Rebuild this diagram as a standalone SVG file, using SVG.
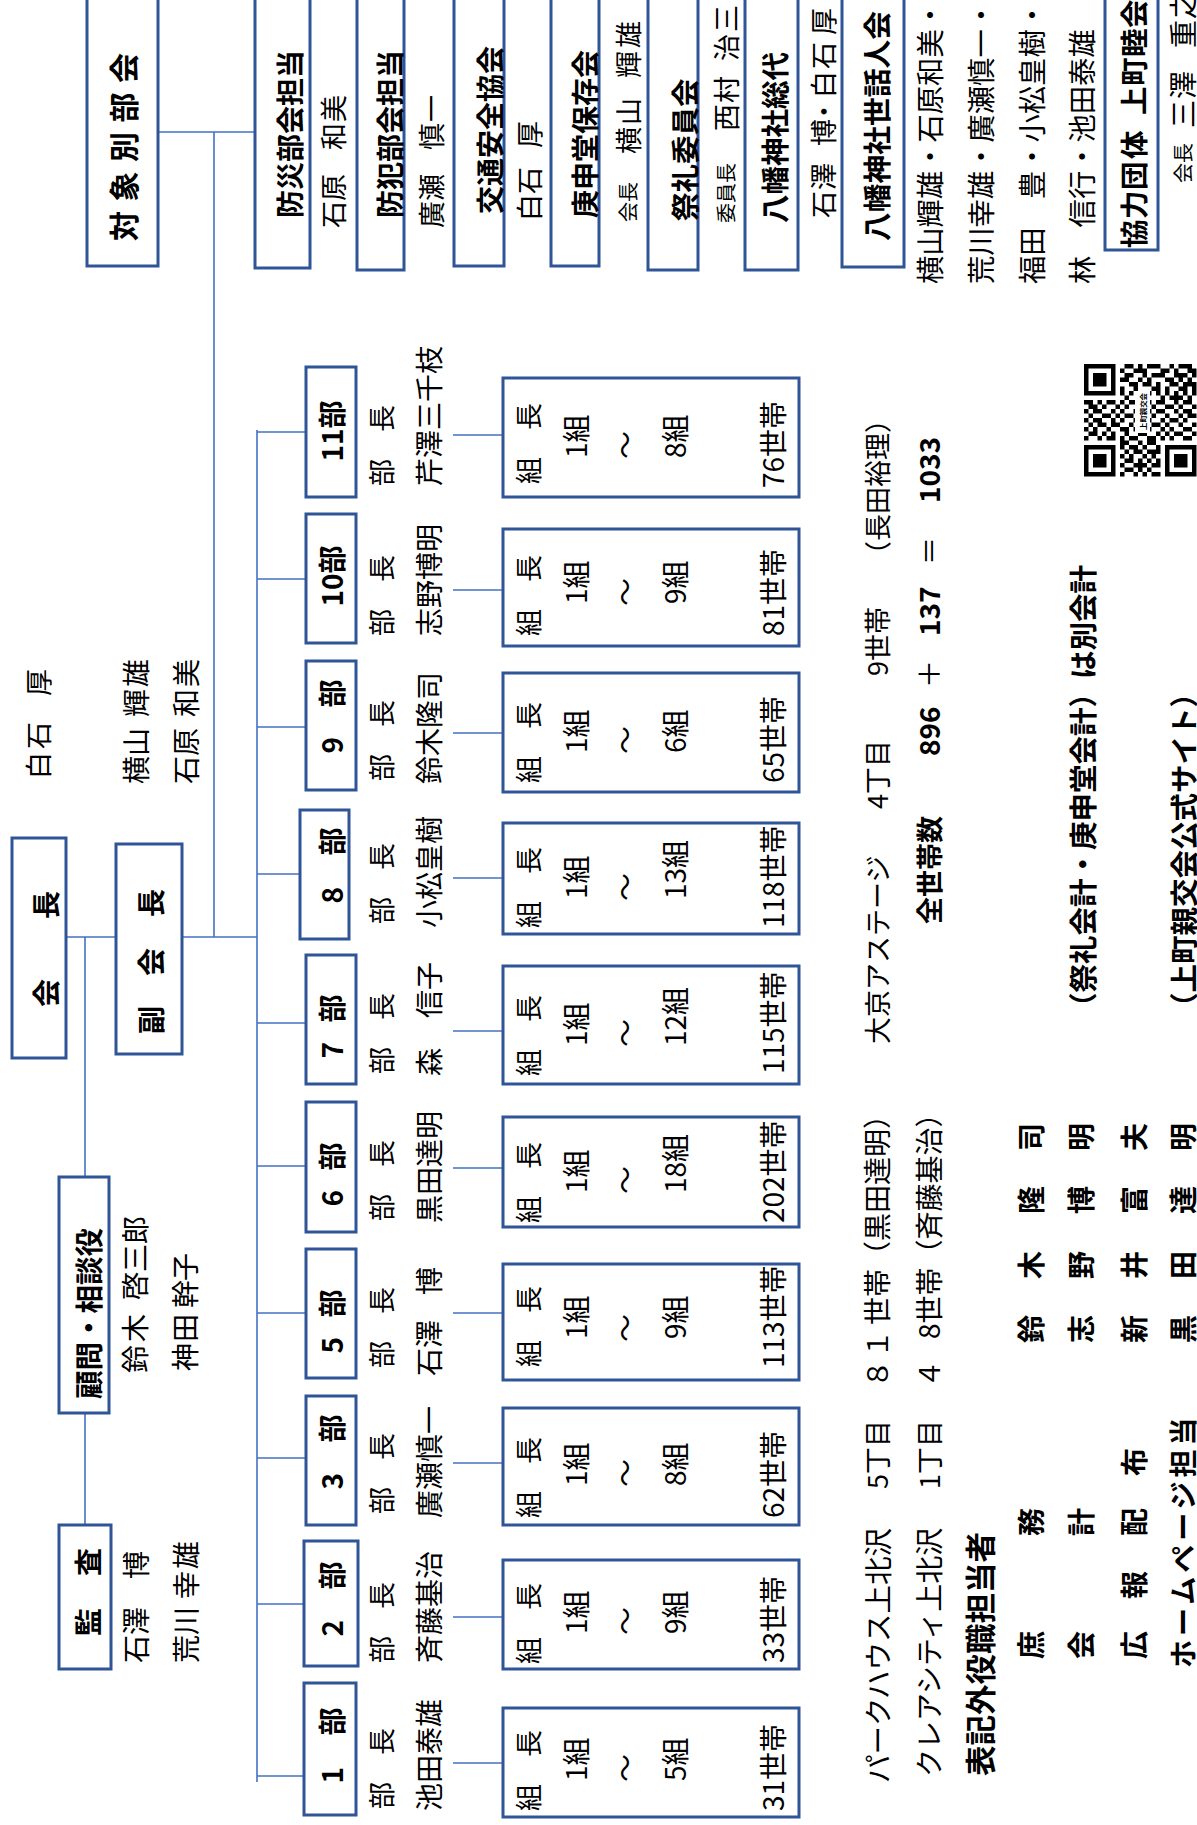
<svg xmlns="http://www.w3.org/2000/svg" width="1197" height="1825" viewBox="0 0 1197 1825">
<style>
.box{fill:#fff;stroke:#2F5597;stroke-width:3}
.ln{stroke:#4472C4;stroke-width:1.6;fill:none}
text{font-family:"Noto Sans CJK JP","Noto Sans CJK SC",sans-serif;fill:#000;dominant-baseline:central;font-size:28px}
.b{font-weight:700}
.sm{font-size:20px}
.m{font-size:27px}
.f285{font-size:28.5px}
.f283{font-size:28.3px}
</style>
<rect width="1197" height="1825" fill="#fff"/>
<g transform="translate(0 1825) rotate(-90)">
<g id="connectors">
<path class="ln" d="M888 66V257M888 85H648M412 85H300M888 214H1693M1693 158V255M43 257H1395M49 257V304M221 257V304M367 257V306M512 257V306M659 257V306M802 257V306M951 257V300M1098 257V306M1246 257V306M1393 257V306M62 453V503M208 453V503M362 453V503M512 453V503M657 453V503M794 453V503M947 453V503M1092 453V503M1235 453V503M1390 453V503"/>
</g>
<g id="kaicho">
<rect class="box" x="767" y="12" width="220" height="54"/>
<text class="b" x="818 846 906" y="45">会　長</text>
<text class="m" x="1046 1076 1104 1129" y="37">白石　厚</text>
</g>
<g id="fukukaicho">
<rect class="box" x="771" y="116" width="210" height="66"/>
<text class="b" x="791 820 849 879 908" y="150">副　会　長</text>
<text x="1041 1069 1097 1108 1138" y="135">横山 輝雄</text>
<text x="1041 1069 1097 1108 1138" y="185">石原 和美</text>
</g>
<g id="komon">
<rect class="box" x="412" y="59" width="236" height="50"/>
<text class="b f285" x="426" y="87">顧問・相談役</text>
<text x="452 483 511 525 553 581" y="134">鈴木 啓三郎</text>
<text x="454 483 511 517 544" y="184">神田 幹子</text>
</g>
<g id="kansa">
<rect class="box" x="156" y="59" width="144" height="52"/>
<text class="b" x="189 219 249" y="87">監　査</text>
<text x="162 190 218 246" y="135">石澤　博</text>
<text x="162 190 218 226 256" y="185">荒川 幸雄</text>
</g>
<g id="bu1">
<rect class="box" x="10" y="304" width="132" height="52"/>
<text class="b" x="41.5 57 89.5" y="331">1　部</text>
<text class="m" x="16" y="380">部　長</text>
<text x="14" y="428">池田泰雄</text>
<rect class="box" x="8" y="503" width="109" height="296"/>
<text class="m" x="14" y="527">組　長</text>
<text x="44" y="575">1組</text>
<text x="57" y="624" text-anchor="middle">～</text>
<text x="44" y="674">5組</text>
<text x="14" y="772">31世帯</text>
</g>
<g id="bu2">
<rect class="box" x="159" y="304" width="125" height="54"/>
<text class="b" x="188.5 204 235.5" y="331">2　部</text>
<text class="m" x="162" y="380">部　長</text>
<text x="162" y="428">斉藤基治</text>
<rect class="box" x="156" y="503" width="109" height="296"/>
<text class="m" x="161" y="527">組　長</text>
<text x="191" y="575">1組</text>
<text x="204" y="624" text-anchor="middle">～</text>
<text x="191" y="674">9組</text>
<text x="162" y="772">33世帯</text>
</g>
<g id="bu3">
<rect class="box" x="300" y="306" width="129" height="50"/>
<text class="b" x="335.5 351 382.5" y="331">3　部</text>
<text class="m" x="311" y="380">部　長</text>
<text x="307" y="428">廣瀬慎一</text>
<rect class="box" x="300" y="503" width="117" height="296"/>
<text class="m" x="307" y="527">組　長</text>
<text x="339" y="575">1組</text>
<text x="352" y="624" text-anchor="middle">～</text>
<text x="339" y="674">8組</text>
<text x="307" y="772">62世帯</text>
</g>
<g id="bu5">
<rect class="box" x="447" y="306" width="129" height="50"/>
<text class="b" x="471.5 487 507.5" y="331">5　部</text>
<text class="m" x="457" y="380">部　長</text>
<text x="449 477 505 530" y="428">石澤　博</text>
<rect class="box" x="445" y="503" width="116" height="296"/>
<text class="m" x="458" y="527">組　長</text>
<text x="486" y="575">1組</text>
<text x="497" y="624" text-anchor="middle">～</text>
<text x="486" y="674">9組</text>
<text x="457" y="772">113世帯</text>
</g>
<g id="bu6">
<rect class="box" x="593" y="306" width="130" height="50"/>
<text class="b" x="618.5 634 654.5" y="331">6　部</text>
<text class="m" x="604" y="380">部　長</text>
<text x="602" y="428">黒田達明</text>
<rect class="box" x="598" y="503" width="110" height="296"/>
<text class="m" x="602" y="527">組　長</text>
<text x="632" y="575">1組</text>
<text x="645" y="624" text-anchor="middle">～</text>
<text x="632" y="674">18組</text>
<text x="602" y="772">202世帯</text>
</g>
<g id="bu7">
<rect class="box" x="741" y="306" width="129" height="50"/>
<text class="b" x="766.5 782 802.5" y="331">7　部</text>
<text class="m" x="751" y="380">部　長</text>
<text x="749 777 807 835" y="428">森　信子</text>
<rect class="box" x="741" y="503" width="118" height="296"/>
<text class="m" x="749" y="527">組　長</text>
<text x="779" y="575">1組</text>
<text x="792" y="624" text-anchor="middle">～</text>
<text x="779" y="674">12組</text>
<text x="751" y="772">115世帯</text>
</g>
<g id="bu8">
<rect class="box" x="886" y="300" width="129" height="49"/>
<text class="b" x="921.5 937 969.5" y="331">8　部</text>
<text class="m" x="901" y="380">部　長</text>
<text x="897" y="428">小松皇樹</text>
<rect class="box" x="891" y="503" width="111" height="296"/>
<text class="m" x="897" y="527">組　長</text>
<text x="926" y="575">1組</text>
<text x="938" y="624" text-anchor="middle">～</text>
<text x="926" y="674">13組</text>
<text x="897" y="772">118世帯</text>
</g>
<g id="bu9">
<rect class="box" x="1035" y="306" width="129" height="50"/>
<text class="b" x="1071.5 1087 1117.5" y="331">9　部</text>
<text class="m" x="1044" y="380">部　長</text>
<text x="1041" y="428">鈴木隆司</text>
<rect class="box" x="1033" y="503" width="119" height="296"/>
<text class="m" x="1042" y="527">組　長</text>
<text x="1072" y="575">1組</text>
<text x="1085" y="624" text-anchor="middle">～</text>
<text x="1072" y="674">6組</text>
<text x="1042" y="772">65世帯</text>
</g>
<g id="bu10">
<rect class="box" x="1182" y="306" width="129" height="50"/>
<text class="b" x="1218.5" y="331">10部</text>
<text class="m" x="1189" y="380">部　長</text>
<text x="1189" y="428">志野博明</text>
<rect class="box" x="1179" y="503" width="117" height="296"/>
<text class="m" x="1189" y="527">組　長</text>
<text x="1221" y="575">1組</text>
<text x="1233" y="624" text-anchor="middle">～</text>
<text x="1221" y="674">9組</text>
<text x="1189" y="772">81世帯</text>
</g>
<g id="bu11">
<rect class="box" x="1328" y="306" width="130" height="50"/>
<text class="b" x="1363.5" y="331">11部</text>
<text class="m" x="1339" y="380">部　長</text>
<text x="1339" y="428">芹澤三千枝</text>
<rect class="box" x="1328" y="503" width="119" height="296"/>
<text class="m" x="1341" y="527">組　長</text>
<text x="1367" y="575">1組</text>
<text x="1380" y="624" text-anchor="middle">～</text>
<text x="1367" y="674">8組</text>
<text x="1337" y="772">76世帯</text>
</g>
<g id="taishobetsu">
<rect class="box" x="1559" y="87" width="290" height="71"/>
<text class="b" x="1584" y="122" style="font-size:30px" letter-spacing="9.5">対象別部会</text>
</g>
<g id="bousai">
<rect class="box" x="1557" y="255" width="290" height="55"/>
<text class="b" x="1607" y="289">防災部会担当</text>
<text class="m" x="1597 1624 1651 1675 1703" y="332">石原 和美</text>
</g>
<g id="bouhan">
<rect class="box" x="1555" y="357" width="290" height="47"/>
<text class="b" x="1607" y="389">防犯部会担当</text>
<text class="m" x="1597 1624 1651 1675 1703" y="430">廣瀬 慎一</text>
</g>
<g id="koutsu">
<rect class="box" x="1559" y="454" width="290" height="50"/>
<text class="b" x="1611" y="489">交通安全協会</text>
<text class="m" x="1604 1631 1658 1677" y="528">白石　厚</text>
</g>
<g id="koshindo">
<rect class="box" x="1559" y="551" width="290" height="48"/>
<text class="b" x="1607" y="584">庚申堂保存会</text>
<text y="627"><tspan class="sm" x="1603 1623">会長</tspan><tspan class="m" x="1645 1671 1700 1727 1747 1777">　横山　輝雄</tspan></text>
</g>
<g id="sairei">
<rect class="box" x="1555" y="648" width="290" height="50"/>
<text class="b f285" x="1604" y="683">祭礼委員会</text>
<text y="725"><tspan class="sm" x="1602 1622 1642">委員長</tspan><tspan class="m" x="1666 1694 1722 1750 1764 1793">　西村　治三</tspan></text>
</g>
<g id="hachiman-sodai">
<rect class="box" x="1555" y="745" width="290" height="53"/>
<text class="b f285" x="1602" y="773">八幡神社総代</text>
<text class="m" x="1607 1635 1663 1679 1700 1727 1756 1784 1790" y="822">石澤 博・白石 厚</text>
</g>
<g id="hachiman-sewanin">
<rect class="box" x="1558" y="842" width="290" height="62"/>
<text class="b" x="1584" y="875" style="font-size:28.75px">八幡神社世話人会</text>
<text class="f283" x="1541" y="928">横山輝雄・石原和美・</text>
<text class="f283" x="1541" y="979">荒川幸雄・廣瀬慎一・</text>
<text class="f283" x="1541" y="1030">福田　豊・小松皇樹・</text>
<text class="f283" x="1541" y="1080">林　信行・池田泰雄</text>
</g>
<g id="kyouryoku">
<rect class="box" x="1575" y="1105" width="290" height="53"/>
<text class="b f285" x="1577 1606 1635 1666 1696 1710 1739 1768 1797" y="1132">協力団体 上町睦会</text>
<text y="1182"><tspan class="sm" x="1642 1662">会長</tspan><tspan x="1682 1697 1726 1755 1777 1806">　三澤　重之</tspan></text>
</g>
<g id="notes">
<text class="f285" x="42" y="876">パークハウス上北沢</text>
<text class="m" x="336" y="876">5丁目</text>
<text x="437 467 500" y="876">８１世帯（黒田達明）</text>
<text class="m" x="781" y="876">大京アステージ</text>
<text class="m" x="1016" y="876">4丁目</text>
<text class="m" x="1149" y="876">9世帯</text>
<text class="m" x="1257" y="876">（長田裕理）</text>
<text x="48" y="928">クレアシティ上北沢</text>
<text class="m" x="336" y="928">1丁目</text>
<text x="437 465 486" y="928">４ 8世帯（斉藤基治）</text>
<text class="b m" x="901" y="928">全世帯数</text>
<text class="b" x="1069" y="928">896</text>
<text x="1151" y="928" text-anchor="middle">＋</text>
<text class="b" x="1189" y="928">137</text>
<text x="1274" y="928" text-anchor="middle">＝</text>
<text class="b" x="1322" y="928">1033</text>
<text class="b" x="49" y="979" style="font-size:30.5px">表記外役職担当者</text>
<text class="b" x="166 194 222 289" y="1030">庶　　務</text>
<text class="b" x="482 514 546 578 611 643 674" y="1030">鈴　木　隆　司</text>
<text class="b" x="166 194 222 289" y="1080">会　　計</text>
<text class="b" x="482 514 546 578 611 643 674" y="1080">志　野　博　明</text>
<text class="b f285" x="804" y="1081">（祭礼会計・庚申堂会計）は別会計</text>
<text class="b" x="166 196 226 257 289 319 349" y="1133">広　報　配　布</text>
<text class="b" x="482 514 546 578 611 643 674" y="1133">新　井　富　夫</text>
<text class="b" x="157" y="1182" letter-spacing="4">ホームページ担当</text>
<text class="b" x="482 514 546 578 611 643 674" y="1182">黒　田　達　明</text>
<text class="b f285" x="804" y="1182">（上町親交会公式サイト）</text>
</g>
</g>
<g id="qr">
<g transform="translate(1084 364) scale(4.5)">
<path fill="#000" fill-rule="evenodd" d="M0 0h7v7h-7zM1 1h5v5h-5zM2 2h3v3h-3zM0 18h7v7h-7zM1 19h5v5h-5zM2 20h3v3h-3zM18 18h7v7h-7zM19 19h5v5h-5zM20 20h3v3h-3zM9 0h2v1h-2zM12 0h1v1h-1zM14 0h3v1h-3zM19 0h1v1h-1zM21 0h3v1h-3zM8 1h1v1h-1zM11 1h3v1h-3zM17 1h2v1h-2zM20 1h1v1h-1zM23 1h2v1h-2zM9 2h2v1h-2zM13 2h1v1h-1zM15 2h3v1h-3zM20 2h3v1h-3zM24 2h1v1h-1zM8 3h2v1h-2zM12 3h1v1h-1zM14 3h1v1h-1zM18 3h2v1h-2zM21 3h1v1h-1zM23 3h1v1h-1zM10 4h2v1h-2zM13 4h2v1h-2zM16 4h1v1h-1zM19 4h2v1h-2zM22 4h3v1h-3zM8 5h1v1h-1zM11 5h1v1h-1zM15 5h2v1h-2zM18 5h1v1h-1zM21 5h2v1h-2zM24 5h1v1h-1zM8 6h1v1h-1zM10 6h1v1h-1zM12 6h1v1h-1zM14 6h1v1h-1zM16 6h1v1h-1zM18 6h1v1h-1zM20 6h1v1h-1zM22 6h1v1h-1zM24 6h1v1h-1zM9 7h1v1h-1zM12 7h2v1h-2zM17 7h1v1h-1zM19 7h3v1h-3zM23 7h1v1h-1zM0 8h2v1h-2zM3 8h1v1h-1zM5 8h2v1h-2zM8 8h1v1h-1zM10 8h2v1h-2zM14 8h1v1h-1zM16 8h2v1h-2zM20 8h1v1h-1zM22 8h2v1h-2zM1 9h2v1h-2zM4 9h1v1h-1zM7 9h1v1h-1zM9 9h1v1h-1zM12 9h2v1h-2zM15 9h1v1h-1zM18 9h2v1h-2zM21 9h1v1h-1zM24 9h1v1h-1zM0 10h1v1h-1zM2 10h2v1h-2zM6 10h1v1h-1zM8 10h1v1h-1zM11 10h1v1h-1zM14 10h1v1h-1zM16 10h2v1h-2zM20 10h1v1h-1zM22 10h2v1h-2zM1 11h1v1h-1zM4 11h2v1h-2zM7 11h1v1h-1zM9 11h2v1h-2zM13 11h1v1h-1zM15 11h1v1h-1zM18 11h1v1h-1zM21 11h1v1h-1zM23 11h2v1h-2zM0 12h1v1h-1zM2 12h2v1h-2zM6 12h1v1h-1zM8 12h1v1h-1zM11 12h2v1h-2zM14 12h1v1h-1zM17 12h1v1h-1zM19 12h2v1h-2zM22 12h1v1h-1zM1 13h1v1h-1zM3 13h2v1h-2zM6 13h2v1h-2zM10 13h1v1h-1zM13 13h1v1h-1zM15 13h2v1h-2zM18 13h1v1h-1zM21 13h1v1h-1zM24 13h1v1h-1zM0 14h1v1h-1zM2 14h1v1h-1zM5 14h1v1h-1zM8 14h2v1h-2zM11 14h1v1h-1zM14 14h1v1h-1zM17 14h1v1h-1zM19 14h1v1h-1zM22 14h2v1h-2zM1 15h2v1h-2zM4 15h1v1h-1zM6 15h1v1h-1zM9 15h1v1h-1zM12 15h2v1h-2zM16 15h1v1h-1zM18 15h1v1h-1zM20 15h2v1h-2zM24 15h1v1h-1zM0 16h1v1h-1zM3 16h1v1h-1zM5 16h2v1h-2zM8 16h1v1h-1zM10 16h2v1h-2zM14 16h2v1h-2zM17 16h1v1h-1zM19 16h1v1h-1zM22 16h2v1h-2zM8 17h2v1h-2zM12 17h1v1h-1zM14 17h2v1h-2zM8 18h1v1h-1zM10 18h2v1h-2zM13 18h1v1h-1zM16 18h1v1h-1zM9 19h1v1h-1zM11 19h2v1h-2zM14 19h3v1h-3zM8 20h1v1h-1zM10 20h1v1h-1zM13 20h1v1h-1zM15 20h1v1h-1zM9 21h2v1h-2zM12 21h1v1h-1zM14 21h1v1h-1zM16 21h1v1h-1zM8 22h1v1h-1zM11 22h3v1h-3zM15 22h2v1h-2zM9 23h2v1h-2zM12 23h1v1h-1zM14 23h1v1h-1zM8 24h1v1h-1zM11 24h1v1h-1zM13 24h1v1h-1zM15 24h2v1h-2z"/>
</g>
<rect x="1135" y="391" width="15" height="42" fill="#fff"/>
<g transform="translate(0 1825) rotate(-90)">
<text class="b" x="1395" y="1142" style="font-size:7.4px">上町親交会</text>
</g>
</g>
</svg>
